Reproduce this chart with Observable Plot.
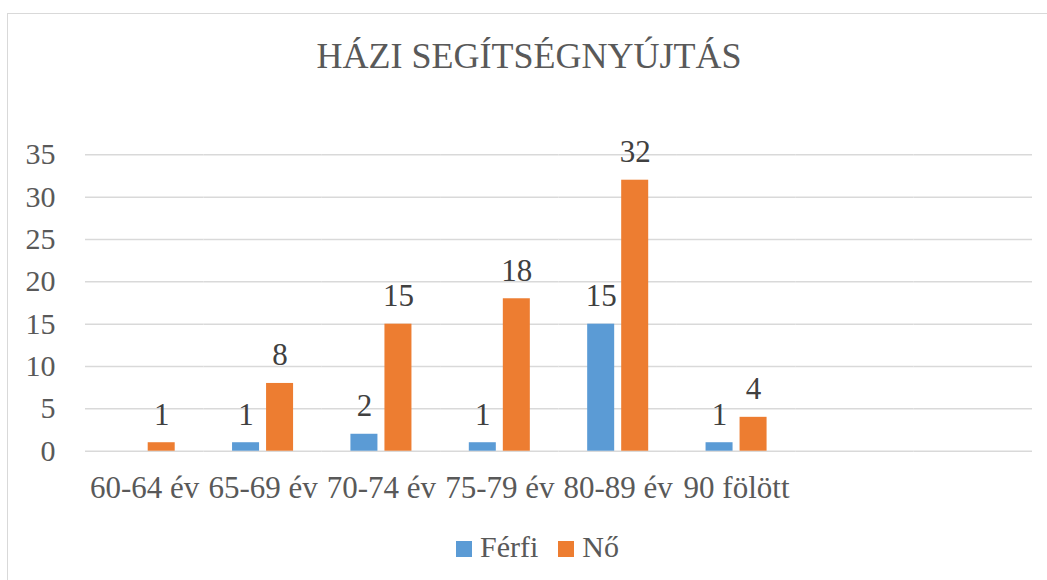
<!DOCTYPE html>
<html>
<head>
<meta charset="utf-8">
<script src="https://cdn.jsdelivr.net/npm/d3@7"></script>
<script src="https://cdn.jsdelivr.net/npm/@observablehq/plot@0.6"></script>
<style>
  html, body { margin: 0; padding: 0; background: #ffffff; }
  body { width: 1047px; height: 580px; position: relative; overflow: hidden; font-family: "Liberation Serif", "Times New Roman", serif; }
  #frame { position: absolute; left: 7px; top: 13px; width: 1200px; height: 700px; border: 1.5px solid #D9D9D9; box-sizing: border-box; z-index: 5; pointer-events: none; }
  #title { position: absolute; left: 0; top: 38px; width: 1047px; padding-left: 11px; box-sizing: border-box; text-align: center; font-size: 36px; line-height: 36px; color: #595959; white-space: nowrap; }
  #chart { position: absolute; left: 0; top: 100px; }
  #chart svg { font-family: "Liberation Serif", "Times New Roman", serif; }
  #legend { position: absolute; left: 456px; top: 532px; font-size: 30px; line-height: 30px; color: #595959; white-space: nowrap; }
  .item { display: inline-block; margin-right: 20px; }
  .sw { display: inline-block; width: 16px; height: 16px; margin-right: 8px; vertical-align: baseline; }
</style>
</head>
<body>
<div id="frame"></div>
<div id="title"></div>
<div id="chart"></div>
<div id="legend"></div>
<script>
const title = "HÁZI SEGÍTSÉGNYÚJTÁS";
const categories = ["60-64 év", "65-69 év", "70-74 év", "75-79 év", "80-89 év", "90 fölött", " ", "  "];
const series = ["Férfi", "Nő"];
const ferfi = [null, 1, 2, 1, 15, 1, null, null];
const no = [1, 8, 15, 18, 32, 4, null, null];
const yTicks = [0, 5, 10, 15, 20, 25, 30, 35];
const colors = ["#5B9BD5", "#ED7D31"];

const data = categories.flatMap((c, i) => [
  {age: c, sex: series[0], value: ferfi[i]},
  {age: c, sex: series[1], value: no[i]}
]);

document.getElementById("title").textContent = title;

const serif = "'Liberation Serif', 'Times New Roman', serif";

const chart = Plot.plot({
  width: 1047,
  height: 420,
  marginTop: 54.3,
  marginBottom: 69.3,
  marginLeft: 85,
  marginRight: 15,
  style: {fontFamily: serif, color: "#595959", background: "transparent", overflow: "visible"},
  fx: {domain: categories, padding: 0, round: false, label: null, axis: null},
  x: {domain: series, paddingInner: 0.206, paddingOuter: 0.843, round: false, axis: null},
  y: {domain: [0, 35], label: null, axis: null},
  color: {domain: series, range: colors},
  marks: [
    Plot.gridY(yTicks, {stroke: "#D9D9D9", strokeOpacity: 1, strokeWidth: 1.5}),
    Plot.axisY(yTicks, {tickSize: 0, tickPadding: 30, fontSize: 30, fontFamily: serif, label: null, fill: "#595959"}),
    Plot.axisFx({anchor: "bottom", tickSize: 0, tickPadding: 25, fontSize: 31, fontFamily: serif, label: null, fill: "#595959"}),
    Plot.barY(data, {fx: "age", x: "sex", y: "value", fill: "sex"}),
    Plot.text(data, {fx: "age", x: "sex", y: "value", text: "value", lineAnchor: "bottom", dy: -18, fontSize: 31, fontFamily: serif, fill: "#404040"})
  ]
});
document.getElementById("chart").appendChild(chart);

const legend = document.getElementById("legend");
series.forEach((s, i) => {
  const item = document.createElement("span");
  item.className = "item";
  const sw = document.createElement("span");
  sw.className = "sw";
  sw.style.background = colors[i];
  item.appendChild(sw);
  item.appendChild(document.createTextNode(s));
  legend.appendChild(item);
});
</script>
</body>
</html>
